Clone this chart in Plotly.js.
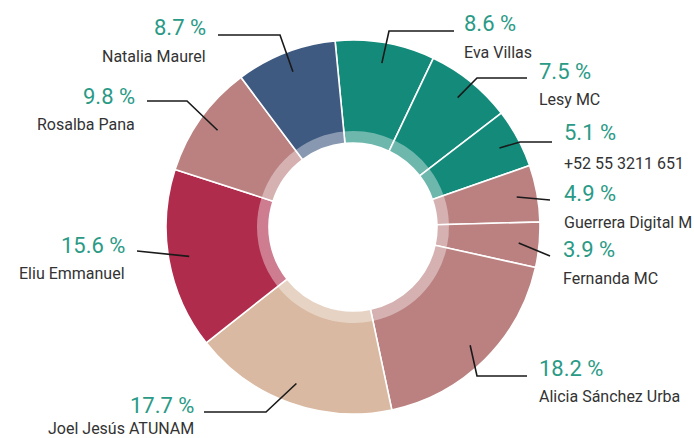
<!DOCTYPE html>
<html>
<head>
<meta charset="utf-8">
<script src="https://cdn.plot.ly/plotly-3.0.1.min.js"></script>
<style>html,body{margin:0;padding:0;background:#fff;}#chart{width:694px;height:438px;}</style>
</head>
<body>
<div id="chart"></div>
<script>
// ---- data ----
const names = ["Eva Villas", "Lesy MC", "+52 55 3211 651", "Guerrera Digital M", "Fernanda MC",
               "Alicia Sánchez Urba", "Joel Jesús ATUNAM", "Eliu Emmanuel", "Rosalba Pana", "Natalia Maurel"];
const values = [8.6, 7.5, 5.1, 4.9, 3.9, 18.2, 17.7, 15.6, 9.8, 8.7];
const colors = ["#148B7A", "#148B7A", "#148B7A", "#BB8181", "#BB8181",
                "#BB8181", "#D9B9A1", "#B02C4D", "#BB8181", "#3F5A81"];

// ---- layout geometry (pixels) ----
const W = 694, H = 438;
const cx = 353, cy = 227, R = 187, holePx = 84, bandPx = 96;
const rotation = -5.5;
const px = x => x / W, py = y => 1 - y / H;

// label placement: [side, percent-text y, name y, text x, elbow x, elbow y, end x, end y]
const labelPos = [
  ["r", 23, 53, 462, 389, 31, 454, 31],
  ["r", 71, 99, 537, 477, 78, 527, 78],
  ["r", 133, 163, 562, 520, 142, 552, 142],
  ["r", 193, 222, 562, null, null, 550, 200],
  ["r", 249, 278, 561, null, null, 550, 256],
  ["r", 368, 396, 537, 477, 376, 527, 376],
  ["l", 405, 428, 196, 266, 412, 204, 412],
  ["l", 245, 273, 127, null, null, 137, 251],
  ["l", 96, 124, 137, 187, 101, 147, 101],
  ["l", 27, 57, 208, 280, 35, 218, 35]
];

const total = values.reduce((a, b) => a + b, 0);
let cum = 0;
const shapes = [], annotations = [];
values.forEach((v, i) => {
  const mid = (cum + v / 2) / total;
  cum += v;
  const th = (rotation + 360 * mid) * Math.PI / 180;
  const ar = R * 0.89;
  const ax = cx + ar * Math.sin(th), ay = cy - ar * Math.cos(th);
  const p = labelPos[i];
  let path = `M ${px(ax)} ${py(ay)}`;
  if (p[4] !== null) path += ` L ${px(p[4])} ${py(p[5])}`;
  path += ` L ${px(p[6])} ${py(p[7])}`;
  shapes.push({type: "path", xref: "paper", yref: "paper", path: path,
               line: {color: "#1a1a1a", width: 1.6}});
  const anchor = p[0] === "r" ? "left" : "right";
  annotations.push({xref: "paper", yref: "paper", x: px(p[3]), y: py(p[1]),
    xanchor: anchor, yanchor: "middle", showarrow: false,
    text: v.toFixed(1) + " %", font: {family: "Roboto", size: 22, color: "#2A9A86"}});
  annotations.push({xref: "paper", yref: "paper", x: px(p[3]), y: py(p[2]),
    xanchor: anchor, yanchor: "middle", showarrow: false,
    text: names[i], font: {family: "Roboto", size: 16, color: "#333333"}});
});

const bandColors = colors.map(() => "rgba(255,255,255,0.38)");

const traces = [
  {
    type: "pie", labels: names, values: values, sort: false, direction: "clockwise",
    rotation: rotation, hole: holePx / R, textinfo: "none", hoverinfo: "label+percent",
    marker: {colors: colors, line: {color: "#ffffff", width: 1.6}},
    domain: {x: [px(cx - R), px(cx + R)], y: [py(cy + R), py(cy - R)]},
    showlegend: false
  },
  {
    type: "pie", labels: names, values: values, sort: false, direction: "clockwise",
    rotation: rotation, hole: holePx / bandPx, textinfo: "none", hoverinfo: "skip",
    marker: {colors: bandColors, line: {width: 0}},
    domain: {x: [px(cx - bandPx), px(cx + bandPx)], y: [py(cy + bandPx), py(cy - bandPx)]},
    showlegend: false
  }
];

const layout = {
  width: W, height: H,
  margin: {l: 0, r: 0, t: 0, b: 0},
  paper_bgcolor: "#ffffff",
  showlegend: false,
  shapes: shapes,
  annotations: annotations,
  font: {family: "Roboto"}
};

Plotly.newPlot("chart", traces, layout, {displayModeBar: false, staticPlot: true});
</script>
</body>
</html>
